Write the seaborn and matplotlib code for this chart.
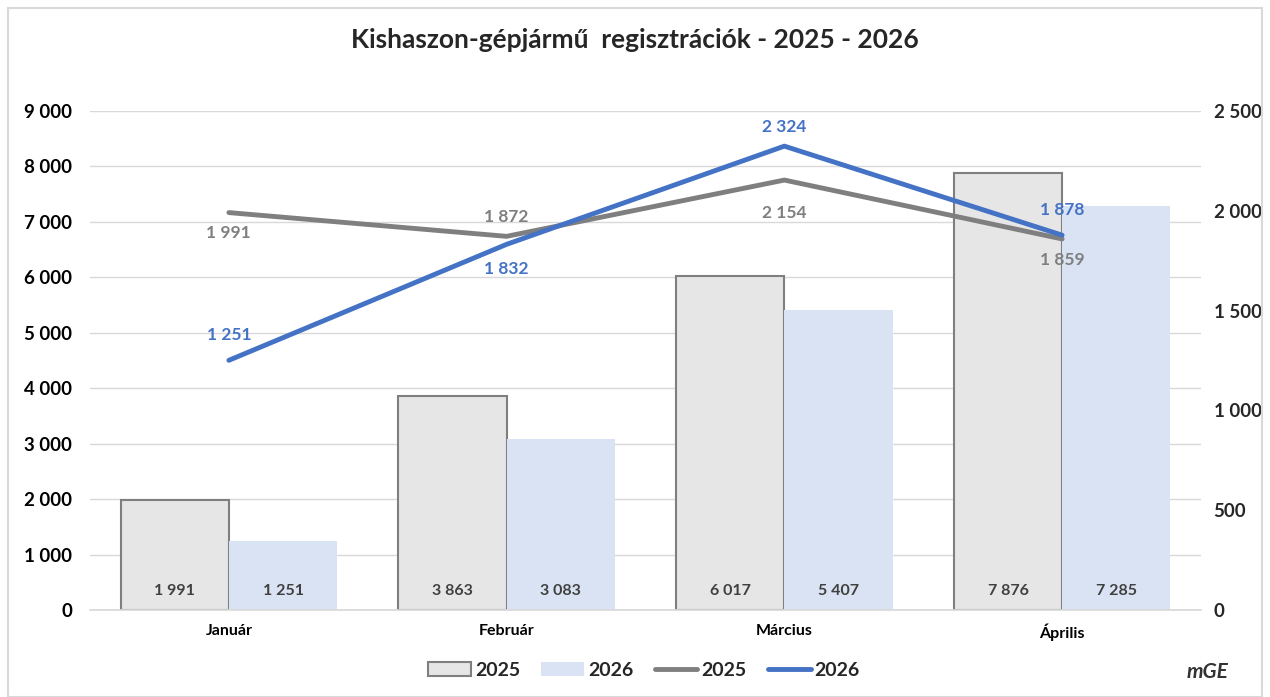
import pandas as pd
import seaborn as sns
import matplotlib.pyplot as plt
from matplotlib.patches import Patch, Rectangle
from matplotlib.lines import Line2D
from matplotlib.ticker import FuncFormatter, MultipleLocator

# data
months = ['Január', 'Február', 'Március', 'Április']
bars_2025 = [1991, 3863, 6017, 7876]
bars_2026 = [1251, 3083, 5407, 7285]
line_2025 = [1991, 1872, 2154, 1859]
line_2026 = [1251, 1832, 2324, 1878]

GRAY_FILL = '#e6e6e6'
GRAY_EDGE = '#7f7f7f'
BLUE_FILL = '#dae3f3'
GRAY_LINE = '#7f7f7f'
BLUE_LINE = '#4472c4'


def fmt(v):
    return f'{int(v):,}'.replace(',', ' ')


sns.set_theme(style='white')
plt.rcParams['font.family'] = ['Lato', 'DejaVu Sans']
plt.rcParams['font.weight'] = 'bold'

bars = pd.DataFrame({
    'month': months * 2,
    'year': ['2025'] * 4 + ['2026'] * 4,
    'value': bars_2025 + bars_2026,
})
lines = pd.DataFrame({
    'month': months * 2,
    'year': ['2025'] * 4 + ['2026'] * 4,
    'value': line_2025 + line_2026,
})

fig = plt.figure(figsize=(12.7, 6.97), dpi=100)
ax = fig.add_axes([90 / 1270, 1 - 610 / 697, 1111 / 1270, 499 / 697])

sns.barplot(data=bars, x='month', y='value', hue='year', ax=ax,
            palette=[GRAY_FILL, BLUE_FILL], width=0.78, legend=False,
            saturation=1, zorder=2)
for patch in ax.patches[:4]:
    patch.set_edgecolor(GRAY_EDGE)
    patch.set_linewidth(1.5)
for patch in ax.patches[4:]:
    patch.set_linewidth(0)

# value labels at the foot of each bar
for cont in ax.containers:
    for patch, v in zip(cont.patches, cont.datavalues):
        ax.annotate(fmt(v), (patch.get_x() + patch.get_width() / 2, 0),
                    xytext=(0, 14), textcoords='offset points',
                    ha='center', va='center', fontsize=11.5,
                    fontweight='bold', color='#404040', zorder=3)

ax.set_ylim(0, 9000)
ax.set_xlim(-0.5, 3.5)
ax.yaxis.set_major_locator(MultipleLocator(1000))
ax.yaxis.set_major_formatter(FuncFormatter(lambda v, p: fmt(v)))
ax.grid(axis='y', color='#d9d9d9', linewidth=1, zorder=0)
ax.set_axisbelow(True)
for s in ['top', 'right', 'left']:
    ax.spines[s].set_visible(False)
ax.spines['bottom'].set_color('#d9d9d9')
ax.set_xlabel('')
ax.set_ylabel('')
ax.tick_params(axis='both', length=0, labelsize=13.5)
ax.tick_params(axis='y', pad=13)
ax.tick_params(axis='x', pad=10)
for lab in ax.get_xticklabels() + ax.get_yticklabels():
    lab.set_fontweight('bold')
    lab.set_color('#000000')
for lab in ax.get_xticklabels():
    lab.set_fontsize(11.5)

ax2 = ax.twinx()
sns.lineplot(data=lines, x='month', y='value', hue='year', ax=ax2,
             palette=[GRAY_LINE, BLUE_LINE], linewidth=3.5, sort=False,
             legend=False)
ax2.set_ylim(0, 2500)
ax2.set_xlim(-0.5, 3.5)
ax2.yaxis.set_major_locator(MultipleLocator(500))
ax2.yaxis.set_major_formatter(FuncFormatter(lambda v, p: fmt(v)))
for s in ax2.spines.values():
    s.set_visible(False)
ax2.set_ylabel('')
ax2.tick_params(axis='y', length=0, labelsize=13.5, pad=9)
for lab in ax2.get_yticklabels():
    lab.set_fontweight('bold')

# line value labels: offset in points (positive = above)
off_2025 = [-15, 14, -24, -15]
off_2026 = [18, -18, 14, 18]
for i, v in enumerate(line_2025):
    ax2.annotate(fmt(v), (i, v), xytext=(0, off_2025[i]),
                 textcoords='offset points', ha='center', va='center',
                 fontsize=12.5, fontweight='bold', color=GRAY_LINE)
for i, v in enumerate(line_2026):
    ax2.annotate(fmt(v), (i, v), xytext=(0, off_2026[i]),
                 textcoords='offset points', ha='center', va='center',
                 fontsize=12.5, fontweight='bold', color=BLUE_LINE)

fig.text(0.5, 1 - 40 / 697, 'Kishaszon-gépjármű  regisztrációk - 2025 - 2026',
         ha='center', va='center', fontsize=19, fontweight='bold')

handles = [
    Patch(facecolor=GRAY_FILL, edgecolor=GRAY_EDGE, linewidth=1.5, label='2025'),
    Patch(facecolor=BLUE_FILL, edgecolor='none', label='2026'),
    Line2D([], [], color=GRAY_LINE, linewidth=3.5, label='2025'),
    Line2D([], [], color=BLUE_LINE, linewidth=3.5, label='2026'),
]
leg = fig.legend(handles=handles, loc='center', ncol=4,
                 bbox_to_anchor=(0.507, 1 - 670 / 697), frameon=False,
                 fontsize=14, handlelength=2.2, handletextpad=0.2,
                 columnspacing=1.1)
for t in leg.get_texts():
    t.set_fontweight('bold')

fig.text(1 - 62 / 1270, 1 - 672 / 697, 'mGE', ha='center', va='center',
         fontsize=15, fontstyle='italic', fontweight='bold', color='#333333')

fig.patches.append(Rectangle((8 / 1270, 0), 1 - 16 / 1270, 1 - 8 / 697,
                             transform=fig.transFigure, fill=False,
                             edgecolor='#d9d9d9', linewidth=1.5))

fig.savefig('out.png', dpi=100)
